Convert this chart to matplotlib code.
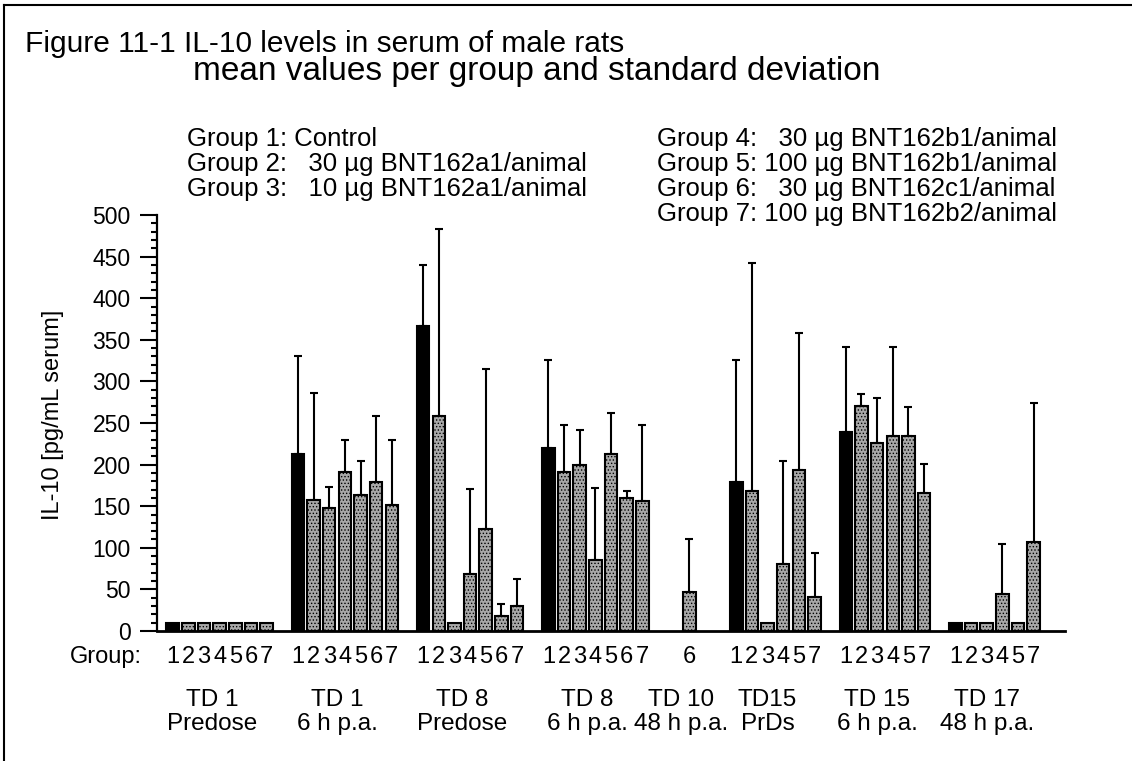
import matplotlib
matplotlib.use("Agg")
import matplotlib.pyplot as plt
import numpy as np
from matplotlib.lines import Line2D
from matplotlib.ticker import MultipleLocator
from matplotlib.transforms import blended_transform_factory

# --- donnees ---
time_day = ["TD 1", "TD 1", "TD 8", "TD 8", "TD 10", "TD15", "TD 15", "TD 17"]
time_phase = ["Predose", "6 h p.a.", "Predose", "6 h p.a.", "48 h p.a.", "PrDs", "6 h p.a.", "48 h p.a."]

grp_all = [1, 2, 3, 4, 5, 6, 7]
grp_no6 = [1, 2, 3, 4, 5, 7]
groups = [grp_all, grp_all, grp_all, grp_all, [6], grp_no6, grp_no6, grp_no6]

mean_td1_pre = [10, 10, 10, 10, 10, 10, 10]
sd_td1_pre = [0, 0, 0, 0, 0, 0, 0]
mean_td1_6h = [213, 158, 148, 191, 164, 179, 152]
sd_td1_6h = [117, 128, 25, 39, 40, 79, 78]
mean_td8_pre = [366, 259, 10, 69, 122, 18, 30]
sd_td8_pre = [74, 224, 0, 102, 193, 15, 33]
mean_td8_6h = [220, 191, 200, 85, 213, 160, 156]
sd_td8_6h = [106, 57, 41, 87, 49, 8, 92]
mean_td10 = [47]
sd_td10 = [64]
mean_td15_pre = [179, 168, 10, 81, 194, 41]
sd_td15_pre = [147, 274, 0, 123, 164, 53]
mean_td15_6h = [239, 271, 226, 234, 234, 166]
sd_td15_6h = [102, 14, 54, 107, 35, 35]
mean_td17 = [10, 10, 10, 45, 10, 107]
sd_td17 = [0, 0, 0, 60, 0, 167]

means = [mean_td1_pre, mean_td1_6h, mean_td8_pre, mean_td8_6h,
         mean_td10, mean_td15_pre, mean_td15_6h, mean_td17]
sds = [sd_td1_pre, sd_td1_6h, sd_td8_pre, sd_td8_6h,
       sd_td10, sd_td15_pre, sd_td15_6h, sd_td17]

legend_left = ["Group 1: Control",
               "Group 2:   30 µg BNT162a1/animal",
               "Group 3:   10 µg BNT162a1/animal"]
legend_right = ["Group 4:   30 µg BNT162b1/animal",
                "Group 5: 100 µg BNT162b1/animal",
                "Group 6:   30 µg BNT162c1/animal",
                "Group 7: 100 µg BNT162b2/animal"]

W, H = 1132, 761
plt.rcParams['font.family'] = ['Liberation Sans', 'DejaVu Sans']
plt.rcParams['hatch.linewidth'] = 0.6


def fx(px):
    return px / W


def fy(py):
    return 1 - py / H


fig = plt.figure(figsize=(W / 100, H / 100), dpi=100)
ax = fig.add_axes([fx(157), fy(631), fx(1065) - fx(157), fy(215) - fy(631)])

# positions des barres : un creneau vide entre les blocs
centres = []
start = 0
for g in groups:
    largeur = max(len(g), 3)
    decal = (largeur - len(g)) / 2
    centres.append([start + decal + i for i in range(len(g))])
    start += largeur + 1

for pos, g, m, s in zip(centres, groups, means, sds):
    couleurs = ['black' if k == 1 else '#a8a8a8' for k in g]
    barres = ax.bar(pos, m, width=0.8, color=couleurs, edgecolor='black', linewidth=1.5, zorder=2)
    for b, k in zip(barres, g):
        if k != 1:
            b.set_hatch('.....')
    m = np.array(m, dtype=float)
    s = np.array(s, dtype=float)
    p = np.array(pos, dtype=float)
    ok = s > 0
    if ok.any():
        ax.errorbar(p[ok], m[ok], yerr=[np.zeros(ok.sum()), s[ok]], fmt='none',
                    ecolor='black', elinewidth=1.5, capsize=3, capthick=1.5, zorder=1)

ax.set_xlim(-1.0, 57.0)
ax.set_ylim(0, 500)
ax.yaxis.set_major_locator(MultipleLocator(50))
ax.yaxis.set_minor_locator(MultipleLocator(10))
ax.tick_params(axis='y', which='major', length=12, width=1.5, labelsize=16.5, pad=7)
ax.tick_params(axis='y', which='minor', length=4.5, width=1.5)
ax.tick_params(axis='x', bottom=False, labelbottom=False)
for cote in ['top', 'right']:
    ax.spines[cote].set_visible(False)
ax.spines['left'].set_linewidth(1.6)
ax.spines['bottom'].set_linewidth(2)

ax.set_ylabel("IL-10 [pg/mL serum]", fontsize=17)
ax.yaxis.set_label_coords((64 - 157) / (1065 - 157), 0.52)

# numeros de groupe et etiquettes des temps
tr = blended_transform_factory(ax.transData, fig.transFigure)
fig.text(fx(142), fy(663), "Group:", ha='right', va='baseline', fontsize=17)
for pos, g, d, ph in zip(centres, groups, time_day, time_phase):
    for x, k in zip(pos, g):
        ax.text(x, fy(663), str(k), transform=tr, ha='center', va='baseline', fontsize=17)
    milieu = (pos[0] + pos[-1]) / 2 - 0.5
    ax.text(milieu, fy(706), d, transform=tr, ha='center', va='baseline', fontsize=17.5)
    ax.text(milieu, fy(730), ph, transform=tr, ha='center', va='baseline', fontsize=17.5)

# titre et legende
fig.text(fx(25), fy(52), "Figure 11-1 IL-10 levels in serum of male rats",
         ha='left', va='baseline', fontsize=21.5)
fig.text(fx(193), fy(80), "mean values per group and standard deviation",
         ha='left', va='baseline', fontsize=24)
for i, t in enumerate(legend_left):
    fig.text(fx(187), fy(146 + 25 * i), t, ha='left', va='baseline', fontsize=18.5)
for i, t in enumerate(legend_right):
    fig.text(fx(657), fy(146 + 25 * i), t, ha='left', va='baseline', fontsize=18.5)

# cadre
fig.add_artist(Line2D([fx(4), 1], [fy(5), fy(5)], color='black', linewidth=1.5, transform=fig.transFigure))
fig.add_artist(Line2D([fx(4), fx(4)], [fy(5), 0], color='black', linewidth=1.5, transform=fig.transFigure))

fig.savefig("out.png", dpi=100)
